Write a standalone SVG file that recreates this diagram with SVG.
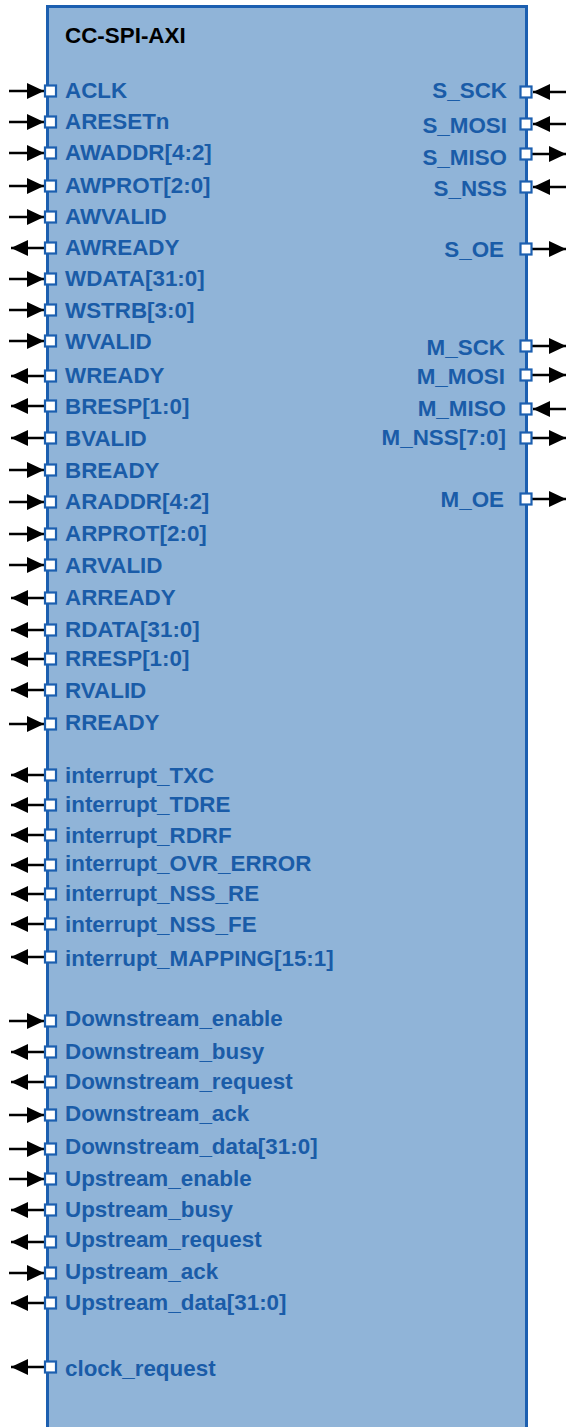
<svg xmlns="http://www.w3.org/2000/svg" width="566" height="1427" viewBox="0 0 566 1427">
<defs>
<marker id="ah" markerUnits="userSpaceOnUse" markerWidth="17" markerHeight="16" refX="17" refY="8" orient="auto"><path d="M0,0 L17,8 L0,16 z" fill="#000"/></marker>
<style>
.box{fill:#90b4d8;stroke:#1c5fb0;stroke-width:3}
.title{font-family:"Liberation Sans",Arial,sans-serif;font-weight:bold;font-size:22.4px;fill:#000}
.lbl{font-family:"Liberation Sans",Arial,sans-serif;font-weight:bold;font-size:22.4px;fill:#1a5ca8}
.r{text-anchor:end}
.pin{fill:#fff;stroke:#1c5fb0;stroke-width:2.2}
.w{stroke:#000;stroke-width:2.5;fill:none;marker-end:url(#ah)}
</style>
</defs>
<g id="block">
<rect class="box" x="47.5" y="6.5" width="479" height="1450"/>
<text class="title" x="65" y="43">CC-SPI-AXI</text>
</g>
<g id="connectors">
<path class="w" d="M9,91H44"/>
<path class="w" d="M9,122H44"/>
<path class="w" d="M9,153H44"/>
<path class="w" d="M9,186H44"/>
<path class="w" d="M9,217H44"/>
<path class="w" d="M45,248H11"/>
<path class="w" d="M9,279H44"/>
<path class="w" d="M9,310H44"/>
<path class="w" d="M9,341H44"/>
<path class="w" d="M45,376H11"/>
<path class="w" d="M45,406H11"/>
<path class="w" d="M45,438H11"/>
<path class="w" d="M9,470H44"/>
<path class="w" d="M9,502H44"/>
<path class="w" d="M9,534H44"/>
<path class="w" d="M9,565H44"/>
<path class="w" d="M45,598H11"/>
<path class="w" d="M45,630H11"/>
<path class="w" d="M45,659H11"/>
<path class="w" d="M45,690H11"/>
<path class="w" d="M9,724H44"/>
<path class="w" d="M45,775H11"/>
<path class="w" d="M45,805H11"/>
<path class="w" d="M45,835H11"/>
<path class="w" d="M45,865H11"/>
<path class="w" d="M45,894H11"/>
<path class="w" d="M45,924H11"/>
<path class="w" d="M45,957H11"/>
<path class="w" d="M9,1021H44"/>
<path class="w" d="M45,1052H11"/>
<path class="w" d="M45,1082H11"/>
<path class="w" d="M9,1115H44"/>
<path class="w" d="M9,1149H44"/>
<path class="w" d="M9,1179H44"/>
<path class="w" d="M45,1210H11"/>
<path class="w" d="M45,1242H11"/>
<path class="w" d="M9,1273H44"/>
<path class="w" d="M45,1303H11"/>
<path class="w" d="M45,1367H11"/>
<path class="w" d="M566,92H533"/>
<path class="w" d="M566,124H533"/>
<path class="w" d="M532,154H566"/>
<path class="w" d="M566,187H533"/>
<path class="w" d="M532,249H566"/>
<path class="w" d="M532,346H566"/>
<path class="w" d="M532,375H566"/>
<path class="w" d="M566,409H533"/>
<path class="w" d="M532,438H566"/>
<path class="w" d="M532,499H566"/>
</g>
<g id="ports-left">
<g id="p-ACLK"><rect class="pin" x="45" y="85.5" width="11" height="11"/><text class="lbl" x="65" y="98">ACLK</text></g>
<g id="p-ARESETn"><rect class="pin" x="45" y="116.5" width="11" height="11"/><text class="lbl" x="65" y="129">ARESETn</text></g>
<g id="p-AWADDR"><rect class="pin" x="45" y="147.5" width="11" height="11"/><text class="lbl" x="65" y="160">AWADDR[4:2]</text></g>
<g id="p-AWPROT"><rect class="pin" x="45" y="180.5" width="11" height="11"/><text class="lbl" x="65" y="193">AWPROT[2:0]</text></g>
<g id="p-AWVALID"><rect class="pin" x="45" y="211.5" width="11" height="11"/><text class="lbl" x="65" y="224">AWVALID</text></g>
<g id="p-AWREADY"><rect class="pin" x="45" y="242.5" width="11" height="11"/><text class="lbl" x="65" y="255">AWREADY</text></g>
<g id="p-WDATA"><rect class="pin" x="45" y="273.5" width="11" height="11"/><text class="lbl" x="65" y="286">WDATA[31:0]</text></g>
<g id="p-WSTRB"><rect class="pin" x="45" y="304.5" width="11" height="11"/><text class="lbl" x="65" y="318">WSTRB[3:0]</text></g>
<g id="p-WVALID"><rect class="pin" x="45" y="335.5" width="11" height="11"/><text class="lbl" x="65" y="349">WVALID</text></g>
<g id="p-WREADY"><rect class="pin" x="45" y="370.5" width="11" height="11"/><text class="lbl" x="65" y="383">WREADY</text></g>
<g id="p-BRESP"><rect class="pin" x="45" y="400.5" width="11" height="11"/><text class="lbl" x="65" y="414">BRESP[1:0]</text></g>
<g id="p-BVALID"><rect class="pin" x="45" y="432.5" width="11" height="11"/><text class="lbl" x="65" y="446">BVALID</text></g>
<g id="p-BREADY"><rect class="pin" x="45" y="464.5" width="11" height="11"/><text class="lbl" x="65" y="478">BREADY</text></g>
<g id="p-ARADDR"><rect class="pin" x="45" y="496.5" width="11" height="11"/><text class="lbl" x="65" y="509">ARADDR[4:2]</text></g>
<g id="p-ARPROT"><rect class="pin" x="45" y="528.5" width="11" height="11"/><text class="lbl" x="65" y="541">ARPROT[2:0]</text></g>
<g id="p-ARVALID"><rect class="pin" x="45" y="559.5" width="11" height="11"/><text class="lbl" x="65" y="573">ARVALID</text></g>
<g id="p-ARREADY"><rect class="pin" x="45" y="592.5" width="11" height="11"/><text class="lbl" x="65" y="605">ARREADY</text></g>
<g id="p-RDATA"><rect class="pin" x="45" y="624.5" width="11" height="11"/><text class="lbl" x="65" y="637">RDATA[31:0]</text></g>
<g id="p-RRESP"><rect class="pin" x="45" y="653.5" width="11" height="11"/><text class="lbl" x="65" y="666">RRESP[1:0]</text></g>
<g id="p-RVALID"><rect class="pin" x="45" y="684.5" width="11" height="11"/><text class="lbl" x="65" y="698">RVALID</text></g>
<g id="p-RREADY"><rect class="pin" x="45" y="718.5" width="11" height="11"/><text class="lbl" x="65" y="730">RREADY</text></g>
<g id="p-int-TXC"><rect class="pin" x="45" y="769.5" width="11" height="11"/><text class="lbl" x="65" y="783">interrupt_TXC</text></g>
<g id="p-int-TDRE"><rect class="pin" x="45" y="799.5" width="11" height="11"/><text class="lbl" x="65" y="812">interrupt_TDRE</text></g>
<g id="p-int-RDRF"><rect class="pin" x="45" y="829.5" width="11" height="11"/><text class="lbl" x="65" y="843">interrupt_RDRF</text></g>
<g id="p-int-OVR"><rect class="pin" x="45" y="859.5" width="11" height="11"/><text class="lbl" x="65" y="871">interrupt_OVR_ERROR</text></g>
<g id="p-int-NSSRE"><rect class="pin" x="45" y="888.5" width="11" height="11"/><text class="lbl" x="65" y="901">interrupt_NSS_RE</text></g>
<g id="p-int-NSSFE"><rect class="pin" x="45" y="918.5" width="11" height="11"/><text class="lbl" x="65" y="932">interrupt_NSS_FE</text></g>
<g id="p-int-MAP"><rect class="pin" x="45" y="951.5" width="11" height="11"/><text class="lbl" x="65" y="966">interrupt_MAPPING[15:1]</text></g>
<g id="p-DS-enable"><rect class="pin" x="45" y="1015.5" width="11" height="11"/><text class="lbl" x="65" y="1026">Downstream_enable</text></g>
<g id="p-DS-busy"><rect class="pin" x="45" y="1046.5" width="11" height="11"/><text class="lbl" x="65" y="1059">Downstream_busy</text></g>
<g id="p-DS-request"><rect class="pin" x="45" y="1076.5" width="11" height="11"/><text class="lbl" x="65" y="1089">Downstream_request</text></g>
<g id="p-DS-ack"><rect class="pin" x="45" y="1109.5" width="11" height="11"/><text class="lbl" x="65" y="1121">Downstream_ack</text></g>
<g id="p-DS-data"><rect class="pin" x="45" y="1143.5" width="11" height="11"/><text class="lbl" x="65" y="1154">Downstream_data[31:0]</text></g>
<g id="p-US-enable"><rect class="pin" x="45" y="1173.5" width="11" height="11"/><text class="lbl" x="65" y="1186">Upstream_enable</text></g>
<g id="p-US-busy"><rect class="pin" x="45" y="1204.5" width="11" height="11"/><text class="lbl" x="65" y="1217">Upstream_busy</text></g>
<g id="p-US-request"><rect class="pin" x="45" y="1236.5" width="11" height="11"/><text class="lbl" x="65" y="1247">Upstream_request</text></g>
<g id="p-US-ack"><rect class="pin" x="45" y="1267.5" width="11" height="11"/><text class="lbl" x="65" y="1279">Upstream_ack</text></g>
<g id="p-US-data"><rect class="pin" x="45" y="1297.5" width="11" height="11"/><text class="lbl" x="65" y="1310">Upstream_data[31:0]</text></g>
<g id="p-clock-request"><rect class="pin" x="45" y="1361.5" width="11" height="11"/><text class="lbl" x="65" y="1376">clock_request</text></g>
</g>
<g id="ports-right">
<g id="p-S_SCK"><rect class="pin" x="520.5" y="86.5" width="11" height="11"/><text class="lbl r" x="507" y="98">S_SCK</text></g>
<g id="p-S_MOSI"><rect class="pin" x="520.5" y="118.5" width="11" height="11"/><text class="lbl r" x="507" y="133">S_MOSI</text></g>
<g id="p-S_MISO"><rect class="pin" x="520.5" y="148.5" width="11" height="11"/><text class="lbl r" x="507" y="165">S_MISO</text></g>
<g id="p-S_NSS"><rect class="pin" x="520.5" y="181.5" width="11" height="11"/><text class="lbl r" x="507" y="196">S_NSS</text></g>
<g id="p-S_OE"><rect class="pin" x="520.5" y="243.5" width="11" height="11"/><text class="lbl r" x="504" y="257">S_OE</text></g>
<g id="p-M_SCK"><rect class="pin" x="520.5" y="340.5" width="11" height="11"/><text class="lbl r" x="505" y="355">M_SCK</text></g>
<g id="p-M_MOSI"><rect class="pin" x="520.5" y="369.5" width="11" height="11"/><text class="lbl r" x="505" y="384">M_MOSI</text></g>
<g id="p-M_MISO"><rect class="pin" x="520.5" y="403.5" width="11" height="11"/><text class="lbl r" x="506" y="416">M_MISO</text></g>
<g id="p-M_NSS"><rect class="pin" x="520.5" y="432.5" width="11" height="11"/><text class="lbl r" x="506" y="445">M_NSS[7:0]</text></g>
<g id="p-M_OE"><rect class="pin" x="520.5" y="493.5" width="11" height="11"/><text class="lbl r" x="504" y="507">M_OE</text></g>
</g>
</svg>
